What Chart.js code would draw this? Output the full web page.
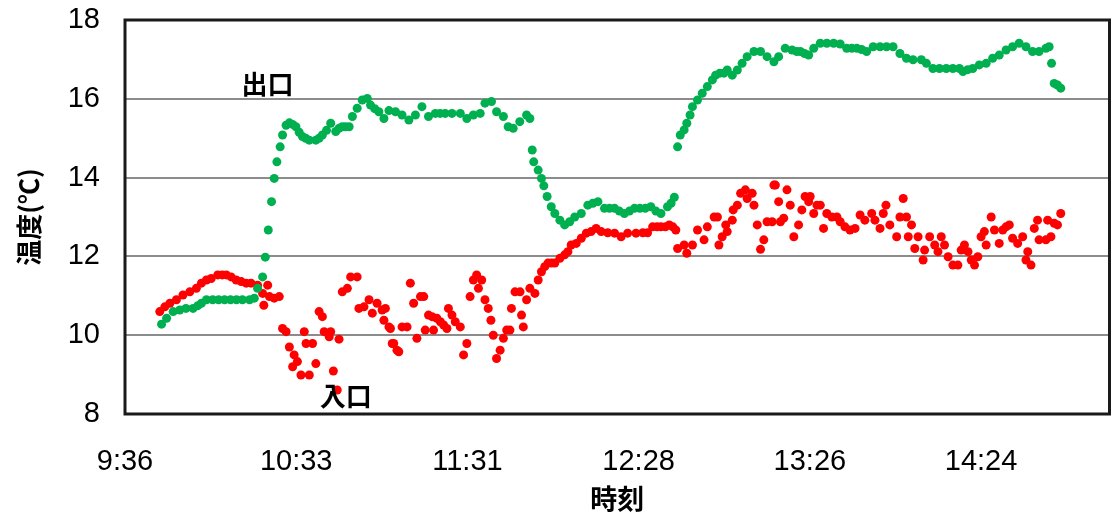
<!DOCTYPE html>
<html>
<head>
<meta charset="utf-8">
<script src="https://cdn.jsdelivr.net/npm/chart.js@4.4.1/dist/chart.umd.min.js"></script>
<style>
  html, body { margin: 0; padding: 0; background: #fff; }
  #wrap { width: 1114px; height: 519px; }
</style>
</head>
<body>
<div id="wrap"><canvas id="tempChart" width="1114" height="519"></canvas></div>
<script>
// times are minutes after midnight, temps in °C
const outletTime = [588.3, 590.0, 592.2, 594.4, 596.5, 598.9, 600.5, 601.7, 603.4, 605.5, 607.5, 609.5, 611.5, 613.5, 615.5, 617.9, 619.5, 620.6, 622.3, 623.2, 624.2, 625.3, 626.2, 627.1, 628.2, 629.0, 630.2, 631.3, 632.4, 633.5, 634.6, 635.7, 636.8, 638.0, 640.2, 641.3, 642.4, 643.8, 645.2, 646.9, 648.0, 649.1, 650.2, 651.4, 652.5, 654.1, 655.8, 657.5, 658.6, 660.0, 661.4, 663.1, 664.8, 667.0, 669.2, 671.5, 673.7, 675.9, 678.1, 680.4, 682.0, 683.7, 686.0, 688.8, 691.0, 693.2, 695.5, 697.1, 699.3, 701.0, 703.3, 704.9, 706.6, 708.8, 711.1, 712.2, 713.0, 713.5, 715.0, 716.1, 716.9, 718.0, 719.4, 720.6, 722.3, 723.9, 725.6, 727.3, 729.5, 731.7, 733.4, 735.1, 737.3, 739.0, 740.7, 742.3, 744.0, 745.7, 747.4, 749.2, 751.0, 752.9, 754.6, 756.3, 758.5, 759.7, 760.8,
  761.9, 762.8, 764.1, 765.0, 766.1, 766.9, 768.6, 770.2, 771.9, 773.6, 774.7, 776.1, 777.5, 778.6, 780.3, 782.0, 783.6, 785.3, 787.6, 789.8, 792.0, 794.3, 795.9, 798.1, 800.4, 802.0, 803.2, 804.6, 806.0, 807.7, 809.9, 812.1, 814.4, 816.6, 818.8, 820.5, 822.2, 823.8, 825.5, 827.7, 830.0, 832.2, 834.4, 836.7, 838.9, 841.1, 843.9, 845.6, 847.8, 850.0, 852.3, 854.5, 856.7, 857.9, 859.5, 861.2, 863.4, 865.7, 867.9, 870.1, 872.4, 874.6, 876.8, 879.1, 881.3, 883.5, 885.8, 886.9, 887.7, 888.6, 889.7, 890.8];
const outletTemp = [10.28, 10.43, 10.6, 10.64, 10.68, 10.68, 10.75, 10.81, 10.9, 10.9, 10.9, 10.9, 10.9, 10.9, 10.9, 10.9, 10.94, 11.19, 11.48, 11.98, 12.67, 13.39, 13.98, 14.4, 14.78, 15.08, 15.33, 15.39, 15.35, 15.29, 15.15, 15.04, 15.0, 14.95, 14.95, 15.0, 15.08, 15.2, 15.38, 15.17, 15.25, 15.29, 15.29, 15.29, 15.55, 15.76, 15.97, 16.01, 15.84, 15.75, 15.67, 15.5, 15.7, 15.67, 15.59, 15.46, 15.59, 15.8, 15.55, 15.63, 15.63, 15.63, 15.63, 15.63, 15.5, 15.59, 15.63, 15.89, 15.93, 15.67, 15.55, 15.29, 15.25, 15.42, 15.59, 15.5, 14.7, 14.4, 14.19, 13.98, 13.79, 13.52, 13.26, 13.09, 12.92, 12.8, 12.88, 13.0, 13.09, 13.3, 13.35, 13.39, 13.22, 13.22, 13.22, 13.15, 13.09, 13.15, 13.22, 13.22, 13.22, 13.26, 13.15, 13.09, 13.26, 13.35, 13.5,
  14.78, 15.08, 15.21, 15.38, 15.59, 15.8, 15.97, 16.14, 16.31, 16.48, 16.6, 16.65, 16.65, 16.73, 16.6, 16.73, 16.9, 17.07, 17.2, 17.2, 17.07, 16.94, 17.07, 17.28, 17.24, 17.2, 17.2, 17.15, 17.11, 17.28, 17.41, 17.41, 17.41, 17.39, 17.28, 17.28, 17.28, 17.25, 17.2, 17.32, 17.32, 17.32, 17.32, 17.15, 17.03, 16.99, 16.99, 16.9, 16.77, 16.77, 16.77, 16.77, 16.77, 16.69, 16.74, 16.77, 16.86, 16.9, 17.03, 17.11, 17.24, 17.32, 17.41, 17.32, 17.2, 17.2, 17.28, 17.32, 16.9, 16.39, 16.35, 16.27];

const inletTime = [587.7, 589.4, 591.1, 593.3, 595.5, 597.8, 600.0, 601.7, 603.4, 605.0, 607.2, 608.7, 610.1, 611.7, 613.4, 615.1, 616.8, 618.4, 620.6, 622.3, 622.7, 624.0, 624.6, 626.2, 627.9, 629.0, 630.2, 631.3, 632.4, 632.9, 634.0, 635.2, 636.3, 636.9, 638.0, 639.1, 640.2, 641.3, 642.4, 643.0, 644.7, 645.2, 646.1, 647.4, 648.0, 649.1, 650.8, 651.9, 654.1, 654.7, 656.4, 658.1, 659.2, 660.8, 662.5, 663.1, 663.6, 664.8, 665.3, 665.9, 666.4, 667.5, 668.1, 669.2, 670.9, 672.0, 673.1, 674.2, 675.4, 676.5, 677.0, 678.1, 679.3, 679.8, 680.9, 682.1, 683.2, 684.3, 684.8, 686.0, 687.1, 688.8, 689.9, 691.0, 692.1, 693.2, 694.3, 694.9, 696.0, 697.1, 698.2, 699.1, 699.9, 701.0, 702.2, 703.3, 704.4, 705.5, 706.0, 707.2, 708.9, 709.4, 710.0, 711.1, 712.2, 713.9, 715.0, 716.1, 717.2, 718.3, 719.5, 720.6, 722.3, 723.9, 725.0, 726.1, 727.8, 729.5, 731.2, 732.8, 734.5, 736.2, 738.4, 740.7, 742.9, 745.1, 747.9, 750.2, 751.8, 753.5, 755.0, 756.3, 757.8, 759.1, 760.3, 761.3,
  761.9, 764.1, 765.0, 766.9, 768.6, 770.8, 771.9, 774.2, 775.3, 775.8, 776.9, 778.1, 778.6, 780.3, 780.6, 782.0, 783.1, 784.7, 785.3, 787.0, 787.6, 788.7, 789.8, 790.9, 792.0, 793.7, 794.3, 794.8, 795.9, 796.5, 797.6, 798.7, 799.8, 801.0, 802.6, 803.7, 804.8, 806.0, 806.5, 807.7, 808.8, 809.9, 811.0, 812.1, 813.8, 815.5, 816.6, 818.2, 819.9, 821.6, 823.3, 824.9, 827.2, 828.3, 830.0, 831.1, 832.0, 833.3, 835.6, 836.7, 837.8, 838.9, 839.5, 840.6, 841.7, 842.8, 844.5, 845.0, 846.7, 848.4, 849.5, 850.6, 851.7, 852.9, 854.5, 856.2, 857.3, 858.4, 859.6, 860.7, 861.8, 862.9, 864.0, 865.1, 865.7, 867.4, 868.5, 870.1, 871.3, 872.4, 873.5, 874.6, 876.3, 878.0, 879.1, 879.7, 880.8, 881.9, 883.0, 883.5, 885.8, 886.4, 887.5, 888.6, 889.7, 890.8];
const inletTemp = [10.6, 10.72, 10.81, 10.9, 11.02, 11.1, 11.19, 11.32, 11.4, 11.44, 11.53, 11.53, 11.53, 11.48, 11.4, 11.36, 11.32, 11.32, 11.27, 11.06, 10.76, 11.27, 10.98, 10.94, 10.98, 10.17, 10.09, 9.7, 9.2, 9.5, 9.33, 8.99, 10.09, 9.79, 8.99, 9.79, 9.28, 10.6, 10.47, 10.09, 9.96, 10.09, 9.09, 8.61, 9.9, 11.1, 11.19, 11.48, 11.48, 10.68, 10.72, 10.9, 10.56, 10.81, 10.64, 10.38, 10.68, 10.21, 10.17, 9.79, 9.79, 9.62, 9.58, 10.21, 10.21, 11.32, 10.81, 9.92, 10.98, 10.98, 10.13, 10.51, 10.47, 10.13, 10.43, 10.34, 10.26, 10.17, 10.68, 10.51, 10.34, 10.21, 9.5, 9.79, 10.98, 11.4, 11.53, 11.19, 11.4, 10.9, 10.68, 10.38, 10.0, 9.41, 9.62, 9.92, 10.13, 10.13, 10.68, 11.1, 11.1, 10.51, 10.21, 10.9, 11.19, 11.06, 11.4, 11.61, 11.74, 11.83, 11.83, 11.83, 11.95, 12.04, 12.12, 12.29, 12.33, 12.46, 12.59, 12.63, 12.71, 12.63, 12.6, 12.59, 12.5, 12.59, 12.59, 12.6, 12.6, 12.75, 12.75, 12.75, 12.75, 12.8, 12.75, 12.67,
  12.2, 12.29, 12.08, 12.29, 12.67, 12.42, 12.75, 13.0, 13.0, 12.29, 12.5, 12.8, 12.63, 12.92, 13.18, 13.3, 13.6, 13.69, 13.47, 13.6, 13.3, 12.8, 12.18, 12.42, 12.88, 12.88, 13.81, 13.81, 13.39, 12.88, 12.97, 13.69, 13.3, 12.5, 12.8, 13.18, 13.52, 13.39, 13.52, 13.09, 13.3, 13.3, 12.71, 13.09, 13.0, 13.0, 12.88, 12.75, 12.67, 12.71, 13.05, 12.92, 13.09, 12.92, 12.71, 13.09, 13.3, 12.8, 12.5, 13.0, 13.47, 13.0, 12.5, 12.8, 12.2, 12.5, 11.91, 12.16, 12.5, 12.29, 12.12, 12.5, 12.29, 11.99, 11.78, 11.78, 12.16, 12.29, 12.12, 11.91, 11.78, 11.99, 12.5, 12.63, 12.29, 13.0, 12.67, 12.33, 12.67, 12.75, 12.8, 12.46, 12.33, 12.5, 11.91, 12.12, 11.78, 12.71, 12.92, 12.42, 12.42, 12.92, 12.5, 12.84, 12.8, 13.09];

// axis: 0.40 .. 0.63 day, major unit 0.04 day (Excel style)
const xMin = 576, xMax = 907.2, xStep = 57.6;
const yMin = 8, yMax = 18, yStep = 2;

// label positions (time, temp)
const labels = [
    { text: '出口', x: 623.9, y: 16.38 },
    { text: '入口', x: 650.3, y: 8.46 }
];

function toPoints(ts, vs) {
    return ts.map((t, i) => ({ x: t, y: vs[i] }));
}

function fmtTime(v) {
    const h = Math.floor(v / 60 + 1e-9);
    const m = Math.floor(v - h * 60 + 1e-6);
    return h + ':' + (m < 10 ? '0' + m : m);
}

const frameAndLabels = {
    id: 'frameAndLabels',
    afterDatasetsDraw(chart) {
        const { ctx, chartArea: a, scales } = chart;
        ctx.save();
        ctx.font = 'bold 26px "Noto Sans CJK JP"';
        ctx.fillStyle = '#000';
        ctx.textAlign = 'center';
        ctx.textBaseline = 'middle';
        labels.forEach(l => {
            ctx.fillText(l.text, scales.x.getPixelForValue(l.x), scales.y.getPixelForValue(l.y));
        });
        ctx.strokeStyle = '#1a1a1a';
        ctx.lineWidth = 3;
        ctx.strokeRect(a.left, a.top, a.right - a.left, a.bottom - a.top);
        ctx.restore();
    }
};

const ctx = document.getElementById('tempChart').getContext('2d');
const tempChart = new Chart(ctx, {
    type: 'scatter',
    data: {
        datasets: [{
            label: '出口',
            data: toPoints(outletTime, outletTemp),
            backgroundColor: '#00B050',
            borderWidth: 0,
            pointRadius: 4.5,
            order: 0
        }, {
            label: '入口',
            data: toPoints(inletTime, inletTemp),
            backgroundColor: '#FF0000',
            borderWidth: 0,
            pointRadius: 4.5,
            order: 1
        }]
    },
    options: {
        responsive: false,
        animation: false,
        layout: { padding: { top: 20, right: 2, left: 0, bottom: 0 } },
        plugins: {
            legend: { display: false },
            tooltip: { enabled: false }
        },
        scales: {
            x: {
                type: 'linear',
                min: xMin,
                max: xMax,
                afterFit: s => { s.height = 105; s.paddingLeft = 0; s.paddingRight = 0; },
                grid: { display: false, drawTicks: false },
                border: { display: false },
                ticks: {
                    stepSize: xStep,
                    includeBounds: false,
                    padding: 31,
                    maxRotation: 0,
                    color: '#000',
                    font: { family: 'Liberation Sans', size: 29 },
                    callback: v => fmtTime(v)
                },
                title: {
                    display: true,
                    text: '時刻',
                    color: '#000',
                    font: { family: 'Noto Sans CJK JP', size: 27, weight: 'bold' },
                    padding: { top: 0, bottom: 4 }
                }
            },
            y: {
                min: yMin,
                max: yMax,
                afterFit: s => { s.width = 125; s.paddingTop = 0; s.paddingBottom = 0; },
                grid: { color: '#8c8c8c', lineWidth: 2, drawTicks: false },
                border: { display: false },
                ticks: {
                    stepSize: yStep,
                    padding: 25,
                    color: '#000',
                    font: { family: 'Liberation Sans', size: 29 }
                },
                title: {
                    display: true,
                    text: '温度(℃)',
                    color: '#000',
                    font: { family: 'Noto Sans CJK JP', size: 26, weight: 'bold' },
                    padding: { top: 14, bottom: 0 }
                }
            }
        }
    },
    plugins: [frameAndLabels]
});
</script>
</body>
</html>
